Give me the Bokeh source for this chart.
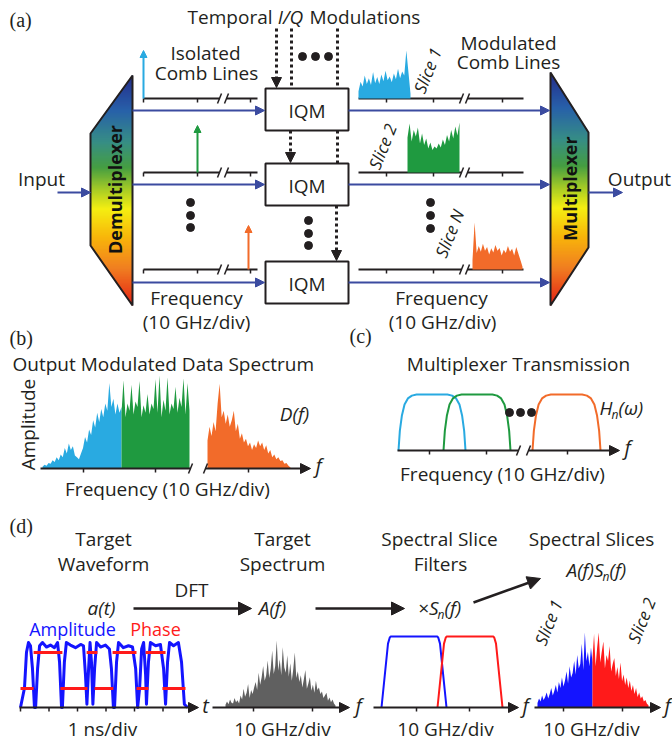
import numpy as np
from bokeh.plotting import figure
from bokeh.models import Arrow, NormalHead, Range1d
from bokeh.core.properties import value
from bokeh.embed import file_html
from bokeh.resources import INLINE

# ---------------- data ----------------
# (a) modulated comb-line slices, relative amplitude (%)
slice1_amp = [15, 35, 25, 48, 30, 42, 28, 55, 32, 45, 30, 50, 36, 58, 38, 46, 34, 52, 40, 62, 42, 56, 48, 100, 55, 10]
slice2_amp = [70, 98, 62, 85, 72, 90, 58, 78, 55, 68, 48, 60, 45, 52, 48, 58, 50, 66, 55, 75, 62, 85, 68, 92, 74, 100]
sliceN_amp = [20, 100, 35, 50, 38, 55, 40, 48, 32, 45, 36, 52, 40, 46, 30, 42, 35, 50, 38, 44, 30, 48, 34, 20, 6]

# (b) output modulated data spectrum, relative amplitude (%)
out_blue = [2, 4, 3, 6, 5, 9, 7, 12, 9, 15, 12, 22, 16, 27, 20, 24, 14, 12, 10, 16,
            22, 34, 28, 42, 36, 52, 44, 60, 50, 64, 55, 70, 62, 92, 66, 75, 58, 70, 60, 66]
out_green = [60, 95, 55, 70, 62, 90, 58, 72, 66, 94, 55, 68, 60, 80, 58, 70, 64, 96, 60, 100,
             55, 74, 62, 98, 58, 70, 64, 88, 60, 76, 66, 97, 58, 92, 62]
out_orange = [30, 45, 35, 50, 40, 70, 91, 55, 62, 48, 58, 45, 52, 62, 40, 48, 32, 38, 28, 32, 24,
              28, 20, 26, 22, 30, 24, 28, 20, 25, 16, 20, 12, 15, 10, 12, 8, 9, 5, 6, 3, 1]

# (c) multiplexer filter passband profile (position across band, gain)
filter_pos = [0, 0.02, 0.05, 0.09, 0.14, 0.20, 0.27, 0.35, 0.5, 0.65, 0.73, 0.80, 0.86, 0.91, 0.95, 0.98, 1.0]
filter_gain = [0, 0.35, 0.62, 0.82, 0.93, 0.98, 1.0, 1.0, 1.0, 1.0, 1.0, 0.98, 0.93, 0.82, 0.62, 0.35, 0]

# (d) target waveform: time (ns), amplitude (normalised)
wave_t = [0.00, 0.14, 0.21, 0.28, 0.35, 0.42, 0.49, 0.53, 0.60, 0.67, 0.77, 0.91, 1.05, 1.19, 1.30, 1.37,
          1.44, 1.47, 1.54, 1.61, 1.75, 1.93, 2.11, 2.21, 2.28, 2.33, 2.39, 2.44, 2.49, 2.54, 2.60, 2.67,
          2.81, 2.98, 3.12, 3.19, 3.26, 3.30, 3.37, 3.44, 3.61, 3.79, 3.93, 4.04, 4.11, 4.18, 4.25, 4.32,
          4.39, 4.42, 4.49, 4.56, 4.74, 4.91, 5.02, 5.09, 5.16, 5.23, 5.37, 5.54, 5.65, 5.75, 5.86]
wave_amp = [0, 0.3, 0.85, 1.0, 0.95, 0.6, 0.0, 0.0, 0.6, 0.95, 1.0, 0.93, 0.96, 0.92, 1.0, 0.7,
            0.0, 0.0, 0.7, 1.0, 0.96, 0.92, 0.97, 0.95, 0.5, 0.05, 0.6, 1.0, 0.7, 0.05, 0.6, 1.0,
            0.93, 0.96, 0.9, 0.6, 0, 0, 0.7, 1.0, 0.92, 0.95, 0.93, 0.6, 0, 0.3, 0.9, 1.0,
            0.5, 0.05, 0.7, 1.0, 0.95, 0.97, 0.6, 0.05, 0.7, 1.0, 0.95, 1.0, 0.7, 0.05, 0]
phase_start = [0.00, 0.46, 1.40, 2.32, 2.60, 3.23, 4.07, 4.39, 4.98]
phase_end = [0.46, 1.47, 2.35, 2.70, 3.26, 4.07, 4.49, 5.09, 5.79]
phase_level = [0, 1, 0, 1, 0, 1, 0, 1, 0]

# (d) target spectrum and spectral slices, relative amplitude (%)
target_spec = [4, 9, 5, 12, 7, 6, 14, 8, 11, 6,
               18, 12, 28, 16, 22, 35, 14, 26, 20, 30,
               38, 26, 52, 34, 45, 62, 40, 48, 70, 44,
               58, 85, 50, 62, 100, 55, 72, 48, 90, 60,
               52, 78, 46, 66, 40, 58, 82, 44, 54, 38,
               48, 30, 42, 56, 28, 36, 45, 25, 34, 22, 40, 26, 30, 20,
               24, 14, 18, 22, 10, 15, 8, 12, 6, 3]
slice_blue = [6, 12, 8, 16, 10, 14, 20, 12, 18, 26, 16, 22, 30, 20, 34, 26, 40, 28, 36, 48,
              32, 55, 40, 46, 62, 44, 70, 52, 58, 85, 50, 100, 62, 74, 55, 80, 60]
slice_red = [65, 98, 55, 80, 100, 60, 75, 88, 52, 70, 62, 82, 48, 58, 66, 42, 54, 38, 60, 35,
             44, 30, 40, 26, 36, 22, 30, 18, 26, 14, 20, 12, 15, 8, 10, 5, 3]
# (d) spectral slice filter (position across band, gain)
sfilt_pos = [0, 0.10, 0.125, 0.14, 0.86, 0.875, 0.90, 1.0]
sfilt_gain = [0, 0.90, 0.98, 1.0, 1.0, 0.98, 0.90, 0]

# ---------------- style ----------------
FONT = "Open Sans"
SERIF = "Liberation Serif"
INK = "#231f20"
CYAN = "#29aae1"
GREEN = "#1f9a40"
ORANGE = "#f26b2a"
ABLUE = "#3b4ba0"
PBLUE = "#1414ff"
PRED = "#ff1a1a"
GRAY = "#606060"
FS = 19

p = figure(width=672, height=741, x_range=Range1d(0, 672), y_range=Range1d(741, 0),
           output_backend="svg", toolbar_location=None, min_border=0,
           x_axis_type=None, y_axis_type=None)
p.grid.visible = False
p.outline_line_color = None
p.background_fill_color = "white"
p.border_fill_color = "white"


def txt(x, y, s, size=FS, color=INK, style="normal", align="center", baseline="middle", angle=0.0, font=FONT):
    p.text(x=[x], y=[y], text=[s], text_font=value(font), text_font_size=f"{size}px",
           text_color=color, text_font_style=style, text_align=align, text_baseline=baseline, angle=angle)


def seg(x0, y0, x1, y1, color=INK, lw=2, dash="solid"):
    p.segment(x0=[x0], y0=[y0], x1=[x1], y1=[y1], line_color=color, line_width=lw, line_dash=dash)


def arrow(x0, y0, x1, y1, color=INK, lw=2, size=10, dash="solid"):
    p.add_layout(Arrow(end=NormalHead(size=size, fill_color=color, line_color=color, line_width=1),
                       x_start=x0, y_start=y0, x_end=x1, y_end=y1,
                       line_color=color, line_width=lw, line_dash=dash))


def spectrum(x0, x1, base, amps, scale, color, alpha=1.0):
    xs = np.linspace(x0, x1, len(amps))
    ys = base - np.array(amps, dtype=float) / 100.0 * scale
    p.varea(x=xs, y1=np.full(len(amps), base), y2=ys, fill_color=color, fill_alpha=alpha)


def ticks(xs, y, length=4):
    p.segment(x0=xs, y0=[y] * len(xs), x1=xs, y1=[y + length] * len(xs), line_color=INK, line_width=1.5)


def brk(x, y, color=INK):
    seg(x - 2, y + 5, x + 2, y - 5, color=color, lw=1.5)


# gradient for (de)multiplexer
stops_y = [0.0, 0.15, 0.29, 0.40, 0.50, 0.58, 0.70, 0.84, 1.0]
stops_c = ["#1b2486", "#1f5aa6", "#2f8a80", "#3e9a3a", "#a8cc1c", "#f5ee08", "#f8b400", "#f07818", "#e3170a"]
stops_rgb = [tuple(int(c[i:i + 2], 16) for i in (1, 3, 5)) for c in stops_c]


def grad(f):
    r = np.interp(f, stops_y, [c[0] for c in stops_rgb])
    g = np.interp(f, stops_y, [c[1] for c in stops_rgb])
    b = np.interp(f, stops_y, [c[2] for c in stops_rgb])
    return "#%02x%02x%02x" % (int(r), int(g), int(b))


def gradient_shape(poly_x, poly_y, left_fn, right_fn, y0, y1):
    xs, ys, cs = [], [], []
    for y in np.arange(y0, y1, 1.0):
        ya, yb = y, min(y + 1.0, y1)
        xs.append([left_fn(ya), right_fn(ya), right_fn(yb), left_fn(yb)])
        ys.append([ya, ya, yb, yb])
        cs.append(grad((y - y0) / (y1 - y0)))
    p.patches(xs=xs, ys=ys, fill_color=cs, line_color=cs, line_width=0.6)
    p.patch(x=poly_x, y=poly_y, fill_color=None, line_color=INK, line_width=2)


# ---------------- panel (a) ----------------
txt(9, 19, "(a)", size=20, align="left", font=SERIF)
txt(272, 16, "Temporal", align="right")
txt(290, 16, "I/Q", style="italic")
txt(309, 16, "Modulations", align="left")

# demultiplexer
def demux_l(y):
    if y < 133:
        return 132 - (y - 75) / 58.0 * 42
    if y <= 245:
        return 90
    return 90 + (y - 245) / 60.0 * 42

gradient_shape([132, 90, 90, 132], [75, 133, 245, 305], demux_l, lambda y: 132, 75, 305)
txt(114, 189, "Demultiplexer", size=18, style="bold", color="#111111", angle=np.pi / 2)

# multiplexer
def mux_r(y):
    if y < 132:
        return 550 + (y - 72) / 60.0 * 38
    if y <= 247:
        return 588
    return 588 - (y - 247) / 58.0 * 38

gradient_shape([550, 588, 588, 550], [72, 132, 247, 305], lambda y: 550, mux_r, 72, 305)
txt(569, 188, "Multiplexer", size=18, style="bold", color="#111111", angle=np.pi / 2)

# input / output
txt(41, 178, "Input")
arrow(57, 192, 90, 192, color=ABLUE, lw=2, size=9)
txt(639, 178, "Output")
arrow(588, 192, 622, 192, color=ABLUE, lw=2, size=9)

# rows
axis_y = [98, 172, 269]
blue_y = [110, 184, 282]
box_top = [88, 163, 261]
box_bot = [130, 205, 303]
comb_x = [143, 197, 248]
comb_col = [CYAN, GREEN, ORANGE]
comb_tip = [50, 125, 225]
for i in range(3):
    ay = axis_y[i]
    # left frequency axis
    seg(143, ay, 219, ay, lw=2)
    seg(226, ay, 257, ay, lw=2)
    brk(219, ay)
    brk(226, ay)
    ticks([143, 197, 250], ay)
    # right frequency axis
    seg(358, ay, 461, ay, lw=2)
    seg(467, ay, 523, ay, lw=2)
    brk(461, ay)
    brk(467, ay)
    ticks([386, 433, 502], ay)
    # blue guides
    arrow(132, blue_y[i], 264, blue_y[i], color=ABLUE, lw=2, size=9)
    arrow(348, blue_y[i], 549, blue_y[i], color=ABLUE, lw=2, size=9)
    # IQM box
    p.quad(left=[265], right=[348], top=[box_top[i]], bottom=[box_bot[i]],
           fill_color="white", line_color=INK, line_width=2)
    txt(306.5, (box_top[i] + box_bot[i]) / 2 + 1, "IQM")
    # comb lines
    arrow(comb_x[i], ay, comb_x[i], comb_tip[i], color=comb_col[i], lw=2, size=7)

# modulated slices
spectrum(358, 410, axis_y[0], slice1_amp, 48, CYAN)
spectrum(407, 459, axis_y[1], slice2_amp, 50, GREEN)
spectrum(472, 522, axis_y[2], sliceN_amp, 47, ORANGE)
ang = np.deg2rad(68)
txt(427, 70, "Slice 1", size=17, style="italic", angle=ang)
txt(382, 146, "Slice 2", size=17, style="italic", angle=ang)
txt(449, 233, "Slice N", size=17, style="italic", angle=ang)

# texts
txt(205, 52, "Isolated")
txt(206, 72, "Comb Lines")
txt(508, 42, "Modulated")
txt(508, 61, "Comb Lines")
txt(196, 297, "Frequency")
txt(196, 321, "(10 GHz/div)")
txt(441, 297, "Frequency")
txt(442, 321, "(10 GHz/div)")

# temporal modulations (dotted)
DOT = "3 3"
arrow(276, 28, 276, 87, lw=3, size=10, dash=DOT)
seg(291, 28, 291, 88, lw=3, dash=DOT)
seg(337, 28, 337, 88, lw=3, dash=DOT)
p.scatter(x=[302, 315, 328], y=[56, 56, 56], size=8, color=INK)
arrow(290, 130, 290, 162, lw=3, size=10, dash=DOT)
seg(337, 130, 337, 163, lw=3, dash=DOT)
arrow(336, 205, 336, 260, lw=3, size=10, dash=DOT)
p.scatter(x=[308, 308, 308], y=[220, 233, 245], size=8, color=INK)
p.scatter(x=[190, 190, 190], y=[202, 215, 227], size=8, color=INK)
p.scatter(x=[430, 430, 430], y=[202, 215, 228], size=8, color=INK)

# ---------------- panel (b) ----------------
txt(9, 337, "(b)", size=20, align="left", font=SERIF)
txt(12, 363, "Output Modulated Data Spectrum", align="left")
txt(27, 424, "Amplitude", angle=np.pi / 2)
spectrum(42, 121, 468, out_blue, 93, CYAN)
spectrum(121, 189, 468, out_green, 93, GREEN)
spectrum(207, 290, 468, out_orange, 93, ORANGE)
seg(40, 468, 190, 468, lw=2)
brk(190, 468)
brk(205, 468)
arrow(205, 468, 310, 468, lw=2, size=10)
ticks([83, 155, 248], 468)
txt(318, 465, "f", size=20, style="italic")
txt(294, 413, "D(f)", style="italic")
txt(167, 488, "Frequency (10 GHz/div)")

# ---------------- panel (c) ----------------
txt(349, 335, "(c)", size=20, align="left", font=SERIF)
txt(518, 363, "Multiplexer Transmission")
fp = np.array(filter_pos)
fg = np.array(filter_gain)
for x0, x1, col in [(398, 465, CYAN), (443, 510, GREEN), (532, 600, ORANGE)]:
    p.line(x=x0 + fp * (x1 - x0), y=450 - fg * 56, line_color=col, line_width=2)
seg(397, 450, 518, 450, lw=2)
brk(518, 450)
brk(528, 450)
arrow(528, 450, 619, 450, lw=2, size=10)
ticks([429, 486, 567], 450)
txt(627, 447, "f", size=20, style="italic")
p.scatter(x=[509, 520, 531], y=[412, 412, 412], size=8, color=INK)
txt(612, 407, "H", style="italic", align="right")
txt(611, 414, "n", size=12, style="italic", align="left")
txt(618, 407, "(ω)", style="italic", align="left")
txt(502, 473, "Frequency (10 GHz/div)")

# ---------------- panel (d) ----------------
txt(9, 525, "(d)", size=20, align="left", font=SERIF)
txt(103, 538, "Target")
txt(103, 563, "Waveform")
txt(282, 538, "Target")
txt(282, 563, "Spectrum")
txt(439, 538, "Spectral Slice")
txt(440, 563, "Filters")
txt(591, 538, "Spectral Slices")
txt(603, 569, "A(f)S", style="italic", align="right")
txt(602, 576, "n", size=12, style="italic", align="left")
txt(609, 569, "(f)", style="italic", align="left")
txt(191, 589, "DFT")
txt(101, 607, "a(t)", style="italic")
arrow(133, 608, 251, 608, lw=2.5, size=13)
txt(272, 607, "A(f)", style="italic")
arrow(315, 608, 404, 608, lw=2.5, size=13)
txt(438, 607, "×S", style="italic", align="right")
txt(437, 614, "n", size=12, style="italic", align="left")
txt(444, 607, "(f)", style="italic", align="left")
arrow(473, 602, 540, 578, lw=2.5, size=13)

# waveform
NS = 28.5
wx = 20 + np.array(wave_t) * NS
wy = 707 - np.array(wave_amp) * 65
p.line(x=wx, y=wy, line_color=PBLUE, line_width=3, line_join="round")
p.segment(x0=20 + np.array(phase_start) * NS, x1=20 + np.array(phase_end) * NS,
          y0=688 - np.array(phase_level) * 36, y1=688 - np.array(phase_level) * 36,
          line_color=PRED, line_width=3)
arrow(19, 707, 198, 707, lw=2, size=10)
ticks([20 + k * NS for k in range(6)], 707)
txt(205, 705, "t", size=20, style="italic")
txt(72, 628, "Amplitude", size=18, color=PBLUE)
txt(155, 628, "Phase", size=18, color=PRED)
txt(102, 728, "1 ns/div")

# target spectrum
spectrum(225, 335, 707, target_spec, 67, GRAY)
arrow(212, 707, 349, 707, lw=2, size=10)
ticks([253, 312], 707)
txt(358, 705, "f", size=20, style="italic")
txt(282, 728, "10 GHz/div")

# spectral slice filters
sp = np.array(sfilt_pos)
sg = np.array(sfilt_gain)
p.line(x=381 + sp * 65, y=707 - sg * 71, line_color=PBLUE, line_width=2)
p.line(x=437 + sp * 65, y=707 - sg * 71, line_color=PRED, line_width=2)
arrow(373, 707, 518, 707, lw=2, size=10)
ticks([416, 469], 707)
txt(525, 705, "f", size=20, style="italic")
txt(445, 728, "10 GHz/div")

# spectral slices
spectrum(537, 592, 707, slice_blue, 75, PBLUE)
spectrum(592, 648, 707, slice_red, 75, PRED)
arrow(534, 707, 660, 707, lw=2, size=10)
ticks([563, 622], 707)
txt(667, 705, "f", size=20, style="italic")
txt(591, 728, "10 GHz/div")
txt(548, 622, "Slice 1", size=17, style="italic", angle=ang)
txt(641, 620, "Slice 2", size=17, style="italic", angle=ang)

open("out.html", "w").write(file_html(p, INLINE))
